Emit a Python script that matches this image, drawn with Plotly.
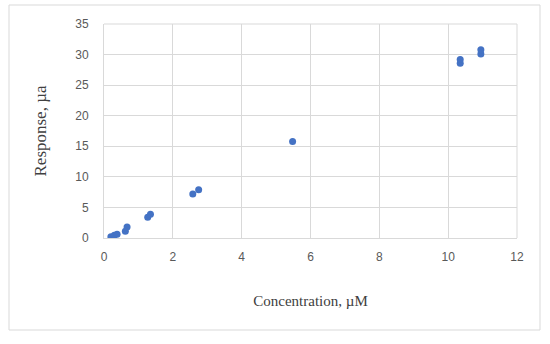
import plotly.graph_objects as go

concentration = [0.2, 0.3, 0.38, 0.62, 0.67, 1.27, 1.35, 2.58, 2.75, 5.48, 10.35, 10.35, 10.95, 10.95]
response = [0.2, 0.45, 0.6, 1.1, 1.8, 3.4, 3.9, 7.2, 7.9, 15.8, 28.6, 29.2, 30.1, 30.8]

x_ticks = [0, 2, 4, 6, 8, 10, 12]
y_ticks = [0, 5, 10, 15, 20, 25, 30, 35]

fig = go.Figure()
fig.add_trace(go.Scatter(
    x=concentration, y=response, mode="markers",
    marker=dict(color="#4472C4", size=7),
    showlegend=False,
))

W, H = 550, 344
L, R, T, B = 104, 33, 24, 106
pw, ph = W - L - R, H - T - B

def px_x(x):
    return (x - L) / pw

def px_y(y):
    return (H - B - y) / ph

fig.update_layout(
    width=W, height=H,
    margin=dict(l=L, r=R, t=T, b=B),
    paper_bgcolor="white", plot_bgcolor="white",
    xaxis=dict(
        range=[0, 12], tickvals=x_ticks, showgrid=True, gridcolor="#D9D9D9",
        gridwidth=1, zeroline=False, showline=True, linecolor="#D9D9D9",
        ticks="", tickfont=dict(family="Liberation Sans, Arial", size=12, color="#595959"),
        ticklabelstandoff=8,
        title=dict(text="Concentration, µM", font=dict(family="Liberation Serif, Times New Roman", size=15, color="#404040"), standoff=32),
        fixedrange=True,
    ),
    yaxis=dict(
        range=[0, 35], tickvals=y_ticks, showgrid=True, gridcolor="#D9D9D9",
        gridwidth=1, zeroline=False, showline=True, linecolor="#D9D9D9",
        ticks="", tickfont=dict(family="Liberation Sans, Arial", size=12, color="#595959"),
        title=dict(text="Response, µa", font=dict(family="Liberation Serif, Times New Roman", size=17, color="#404040"), standoff=24),
        ticklabelstandoff=12,
        fixedrange=True,
    ),
    shapes=[
        dict(type="rect", xref="paper", yref="paper",
             x0=px_x(9), x1=px_x(540), y0=px_y(330), y1=px_y(5),
             line=dict(color="#D9D9D9", width=1), layer="below"),
        dict(type="line", xref="paper", yref="paper",
             x0=1, x1=1, y0=0, y1=1, line=dict(color="#D9D9D9", width=1)),
        dict(type="line", xref="paper", yref="paper",
             x0=0, x1=1, y0=1, y1=1, line=dict(color="#D9D9D9", width=1)),
    ],
)

fig.write_html("out.html", config={"displayModeBar": False},
               post_script="document.body.style.margin='0';")
